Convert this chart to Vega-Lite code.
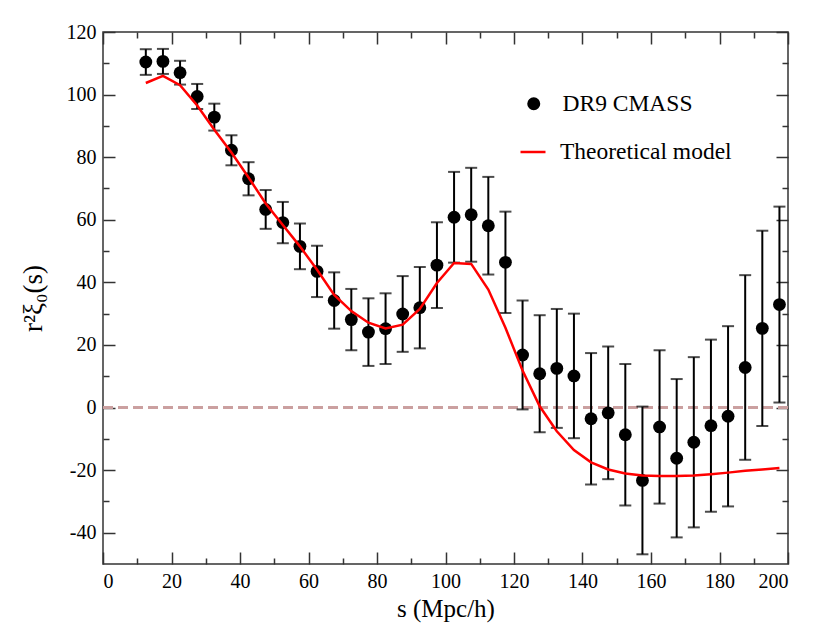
{
  "$schema": "https://vega.github.io/schema/vega-lite/v6.json",
  "description": "DR9 CMASS monopole correlation function with theoretical model.",
  "autosize": {"type": "none"},
  "padding": {"left": 103, "top": 32, "right": 42, "bottom": 78},
  "width": 685,
  "height": 532,
  "background": "white",
  "data": {
    "values": [
      {"s": 12.5, "xi": 110.4, "err": 4.1, "model": 103.7},
      {"s": 17.5, "xi": 110.6, "err": 4.0, "model": 106.0},
      {"s": 22.5, "xi": 107.0, "err": 3.8, "model": 103.0},
      {"s": 27.5, "xi": 99.4, "err": 4.0, "model": 96.5},
      {"s": 32.5, "xi": 92.8, "err": 4.3, "model": 88.8},
      {"s": 37.5, "xi": 82.2, "err": 4.8, "model": 81.5},
      {"s": 42.5, "xi": 73.1, "err": 5.3, "model": 73.5},
      {"s": 47.5, "xi": 63.3, "err": 6.2, "model": 65.2},
      {"s": 52.5, "xi": 59.1, "err": 6.6, "model": 58.3},
      {"s": 57.5, "xi": 51.5, "err": 7.3, "model": 51.5},
      {"s": 62.5, "xi": 43.5, "err": 8.2, "model": 44.0},
      {"s": 67.5, "xi": 34.2, "err": 9.0, "model": 36.0},
      {"s": 72.5, "xi": 28.1, "err": 9.8, "model": 30.8},
      {"s": 77.5, "xi": 24.1, "err": 10.8, "model": 27.1},
      {"s": 82.5, "xi": 25.2, "err": 11.3, "model": 25.3},
      {"s": 87.5, "xi": 29.9, "err": 12.1, "model": 26.5},
      {"s": 92.5, "xi": 31.9, "err": 13.0, "model": 31.5},
      {"s": 97.5, "xi": 45.5, "err": 13.7, "model": 39.8},
      {"s": 102.5, "xi": 60.8, "err": 14.5, "model": 46.2},
      {"s": 107.5, "xi": 61.6, "err": 15.0, "model": 45.9},
      {"s": 112.5, "xi": 58.1, "err": 15.6, "model": 37.7},
      {"s": 117.5, "xi": 46.4, "err": 16.2, "model": 25.5},
      {"s": 122.5, "xi": 16.8, "err": 17.4, "model": 11.8},
      {"s": 127.5, "xi": 10.8, "err": 18.7, "model": 0.4},
      {"s": 132.5, "xi": 12.5, "err": 19.0, "model": -7.6},
      {"s": 137.5, "xi": 10.1, "err": 19.9, "model": -13.6},
      {"s": 142.5, "xi": -3.6, "err": 21.0, "model": -17.5},
      {"s": 147.5, "xi": -1.7, "err": 21.2, "model": -19.8},
      {"s": 152.5, "xi": -8.7, "err": 22.6, "model": -21.1},
      {"s": 157.5, "xi": -23.3, "err": 23.6, "model": -21.7},
      {"s": 162.5, "xi": -6.2, "err": 24.5, "model": -21.9},
      {"s": 167.5, "xi": -16.2, "err": 25.3, "model": -21.9},
      {"s": 172.5, "xi": -11.1, "err": 27.2, "model": -21.7},
      {"s": 177.5, "xi": -5.8, "err": 27.5, "model": -21.3},
      {"s": 182.5, "xi": -2.8, "err": 28.8, "model": -20.8},
      {"s": 187.5, "xi": 12.8, "err": 29.5, "model": -20.2},
      {"s": 192.5, "xi": 25.3, "err": 31.2, "model": -19.8},
      {"s": 197.5, "xi": 32.9, "err": 31.3, "model": -19.3}
    ]
  },
  "layer": [
    {
      "mark": {"type": "rule", "color": "#c9a0a0", "strokeWidth": 1.5, "strokeDash": [10, 5]},
      "encoding": {
        "x": {
          "datum": 0, "type": "quantitative",
          "axis": {"orient": "top", "values": [10, 30, 50, 70, 90, 110, 130, 150, 170, 190], "labels": false, "tickSize": -6, "title": null}
        },
        "x2": {"datum": 200},
        "y": {
          "datum": 0, "type": "quantitative",
          "axis": {"orient": "right", "values": [-30, -10, 10, 30, 50, 70, 90, 110], "labels": false, "tickSize": -6, "title": null}
        }
      }
    },
    {
      "mark": {
        "type": "errorbar", "color": "black",
        "ticks": {"size": 12, "thickness": 2, "color": "black"},
        "rule": {"strokeWidth": 2, "color": "black"}
      },
      "encoding": {
        "x": {
          "field": "s", "type": "quantitative",
          "scale": {"domain": [0, 200], "nice": false, "zero": false},
          "axis": {
            "orient": "bottom", "values": [0, 20, 40, 60, 80, 100, 120, 140, 160, 180, 200],
            "tickSize": -12, "labelPadding": 19, "labelFont": "Liberation Serif",
            "title": "s (Mpc/h)", "titlePadding": 5, "titleFontSize": 25
          }
        },
        "y": {
          "field": "xi", "type": "quantitative",
          "scale": {"domain": [-50, 120], "nice": false, "zero": false},
          "axis": {
            "orient": "left", "values": [-40, -20, 0, 20, 40, 60, 80, 100, 120],
            "tickSize": -12, "labelPadding": 19, "labelFont": "Liberation Serif",
            "labelExpr": "replace(datum.label, '−', '-')",
            "title": "r²ξ₀(s)", "titleFontSize": 27, "titleX": -70, "titleY": 266,
            "titleAngle": -90, "titleBaseline": "middle", "titleAlign": "center"
          }
        },
        "yError": {"field": "err"}
      }
    },
    {
      "mark": {"type": "point", "filled": true, "opacity": 1, "size": 165, "color": "black"},
      "encoding": {
        "x": {
          "field": "s", "type": "quantitative",
          "axis": {"orient": "bottom", "values": [10, 30, 50, 70, 90, 110, 130, 150, 170, 190], "labels": false, "tickSize": -6, "title": null}
        },
        "y": {
          "field": "xi", "type": "quantitative",
          "axis": {"orient": "left", "values": [-30, -10, 10, 30, 50, 70, 90, 110], "labels": false, "tickSize": -6, "title": null}
        },
        "shape": {
          "datum": "DR9 CMASS", "type": "nominal",
          "scale": {"domain": ["DR9 CMASS"], "range": ["circle"]},
          "legend": {
            "title": null, "orient": "none", "legendX": 419, "legendY": 60,
            "padding": 0, "labelFontSize": 23.5, "labelOffset": 17, "labelLimit": 0,
            "symbolSize": 170, "symbolFillColor": "black", "symbolStrokeColor": "black", "symbolOpacity": 1
          }
        }
      }
    },
    {
      "mark": {"type": "line", "strokeWidth": 2.5},
      "encoding": {
        "x": {
          "field": "s", "type": "quantitative",
          "axis": {"orient": "top", "values": [0, 20, 40, 60, 80, 100, 120, 140, 160, 180, 200], "labels": false, "tickSize": -12, "title": null}
        },
        "y": {
          "field": "model", "type": "quantitative",
          "axis": {"orient": "right", "values": [-40, -20, 0, 20, 40, 60, 80, 100, 120], "labels": false, "tickSize": -12, "title": null}
        },
        "color": {
          "datum": "Theoretical model", "type": "nominal",
          "scale": {"domain": ["Theoretical model"], "range": ["red"]},
          "legend": {
            "title": null, "orient": "none", "legendX": 416, "legendY": 106,
            "padding": 0, "labelFontSize": 23.5, "labelOffset": 13, "labelLimit": 0,
            "symbolType": "stroke", "symbolSize": 625, "symbolStrokeWidth": 2.5, "symbolOpacity": 1
          }
        }
      }
    }
  ],
  "resolve": {"axis": {"x": "independent", "y": "independent"}},
  "config": {
    "view": {"stroke": "#333", "strokeWidth": 1.5},
    "font": "Liberation Serif",
    "axis": {
      "domain": false, "grid": false,
      "tickColor": "#333", "tickWidth": 1.5,
      "labelFont": "Liberation Serif", "labelFontSize": 20, "labelColor": "black",
      "titleFont": "Liberation Serif", "titleFontSize": 23, "titleFontWeight": "normal", "titleColor": "black"
    },
    "legend": {"labelFont": "Liberation Serif", "labelColor": "black"}
  }
}
